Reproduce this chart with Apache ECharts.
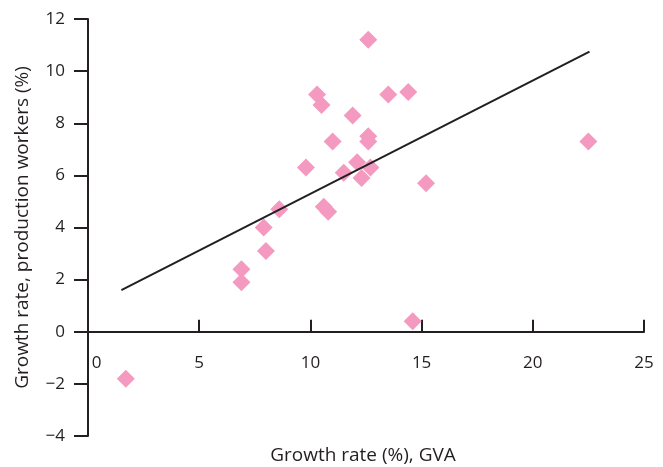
<!DOCTYPE html>
<html>
<head>
<meta charset="utf-8">
<script src="https://cdn.jsdelivr.net/npm/echarts@6/dist/echarts.min.js"></script>
<style>
  html, body { margin: 0; padding: 0; background: #fff; }
  #chart { width: 663px; height: 467px; }
</style>
</head>
<body>
<div id="chart"></div>
<script>
// Growth of gross value added vs growth of production workers, by state
var gvaGrowth = [12.6, 10.3, 10.5, 13.5, 14.4, 11.9, 12.6, 12.6, 11.0, 9.8, 12.1, 12.7, 11.5,
                 12.3, 15.2, 8.6, 10.6, 10.8, 7.9, 8.0, 6.9, 6.9, 14.6, 1.7, 22.5];
var workerGrowth = [11.2, 9.1, 8.7, 9.1, 9.2, 8.3, 7.5, 7.3, 7.3, 6.3, 6.5, 6.3, 6.1,
                    5.9, 5.7, 4.7, 4.8, 4.6, 4.0, 3.1, 2.4, 1.9, 0.4, -1.8, 7.3];
// Fitted trend line end points
var trendX = [1.5, 22.55];
var trendY = [1.6, 10.75];

var xTicks = [0, 5, 10, 15, 20, 25];
var yTicks = [-4, -2, 0, 2, 4, 6, 8, 10, 12];

var ink = '#231f20';
var font = '"Open Sans", "Noto Sans", sans-serif';

var points = gvaGrowth.map(function (x, i) { return [x, workerGrowth[i]]; });
var trend = trendX.map(function (x, i) { return [x, trendY[i]]; });

// The horizontal axis sits at y = 0: shift it up from the grid bottom by the
// pixel height of the negative part of the y range.
var gridTop = 19, gridBottom = 31, chartH = 467;
var plotH = chartH - gridTop - gridBottom;
var yMin = yTicks[0], yMax = yTicks[yTicks.length - 1];
var zeroShift = plotH * (0 - yMin) / (yMax - yMin);

var chart = echarts.init(document.getElementById('chart'));
chart.setOption({
  animation: false,
  backgroundColor: '#fff',
  grid: { left: 88, right: 19, top: gridTop, bottom: gridBottom, containLabel: false, outerBoundsMode: 'none' },
  xAxis: {
    type: 'value',
    position: 'bottom',
    offset: -zeroShift,
    min: xTicks[0], max: xTicks[xTicks.length - 1], interval: 5,
    name: 'Growth rate (%), GVA',
    nameLocation: 'middle', nameGap: 114,
    nameTextStyle: { color: ink, fontSize: 19, fontFamily: font, padding: [0, 6, 0, 0] },
    axisLine: { onZero: false, lineStyle: { color: ink, width: 2 } },
    axisTick: { show: true, inside: true, length: 12, lineStyle: { color: ink, width: 2 } },
    axisLabel: {
      color: ink, fontSize: 17, fontFamily: font, margin: 23,
      formatter: function (v) { return v === 0 ? '{zero|0}' : String(v); },
      rich: { zero: { padding: [0, 0, 0, 17], color: ink, fontSize: 17, fontFamily: font } }
    },
    splitLine: { show: false }
  },
  yAxis: {
    type: 'value',
    min: yMin, max: yMax, interval: 2,
    name: 'Growth rate, production workers (%)',
    nameLocation: 'middle', nameGap: 56,
    nameTextStyle: { color: ink, fontSize: 19, fontFamily: font },
    axisLine: { onZero: false, lineStyle: { color: ink, width: 2 } },
    axisTick: { show: true, length: 14, lineStyle: { color: ink, width: 2 } },
    axisLabel: {
      color: ink, fontSize: 17, fontFamily: font, margin: 23,
      formatter: function (v) { return v < 0 ? '\u2212' + Math.abs(v) : String(v); }
    },
    splitLine: { show: false }
  },
  series: [
    {
      type: 'scatter',
      data: points,
      symbol: 'diamond',
      symbolSize: 18,
      itemStyle: { color: '#f49ac1', opacity: 1 },
      z: 2
    },
    {
      type: 'line',
      data: trend,
      showSymbol: false,
      symbol: 'none',
      lineStyle: { color: ink, width: 2 },
      z: 3
    }
  ]
});
</script>
</body>
</html>
